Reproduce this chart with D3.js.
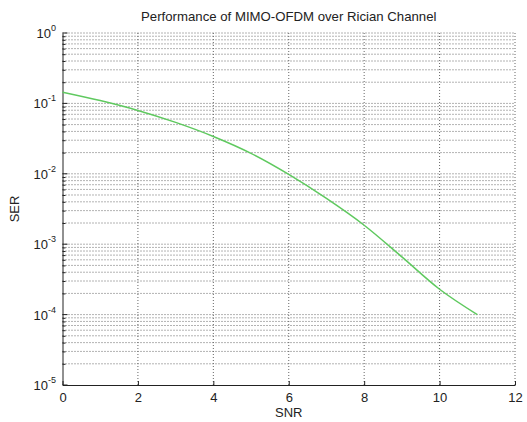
<!DOCTYPE html>
<html><head><meta charset="utf-8">
<script src="https://cdn.jsdelivr.net/npm/d3@7"></script>
<style>body{margin:0;background:#fff}svg{display:block}text{font-family:"Liberation Sans",Arial,sans-serif;fill:#222}</style>
</head><body><svg id="c" width="527" height="422"></svg>
<script>
const snr = [0,1,2,3,4,5,6,7,8,9,10,11];
const ser = [0.1445,0.1096,0.0794,0.0537,0.0339,0.0195,0.0098,0.00447,0.00186,0.00066,0.000229,0.0001];
const xTicks = [0,2,4,6,8,10,12];
const yExps = [0,-1,-2,-3,-4,-5];
const title = "Performance of MIMO-OFDM over Rician Channel";

const svg = d3.select("#c");
const L=62.5, R=515, T=33, B=385;
const x = d3.scaleLinear().domain([0,12]).range([L,R]);
const y = d3.scaleLog().domain([1e-5,1]).range([B,T]);

const minors=[];
for(let e=-5;e<0;e++) for(let m=2;m<=9;m++) minors.push(m*Math.pow(10,e));
const g = svg.append("g");
g.selectAll(".hg").data(minors.concat([1e-4,1e-3,1e-2,1e-1,1])).enter().append("line")
 .attr("x1",L).attr("x2",R).attr("y1",d=>y(d)).attr("y2",d=>y(d))
 .attr("stroke","#666").attr("stroke-width",1).attr("stroke-dasharray","1,2");
g.selectAll(".vg").data(xTicks.slice(1)).enter().append("line")
 .attr("x1",d=>x(d)).attr("x2",d=>x(d)).attr("y1",T).attr("y2",B)
 .attr("stroke","#666").attr("stroke-width",1).attr("stroke-dasharray","1,2");

const xa = svg.append("g").attr("transform",`translate(0,${B})`)
 .call(d3.axisBottom(x).tickValues(xTicks).tickSizeInner(-4).tickSizeOuter(0).tickPadding(8).tickFormat(d3.format("d")));
xa.select(".domain").attr("stroke","#222");
xa.selectAll(".tick line").attr("stroke","#222");
xa.selectAll("text").attr("font-size",13).attr("fill","#333");

const ya = svg.append("g").attr("transform",`translate(${L},0)`)
 .call(d3.axisLeft(y).tickValues(minors).tickSizeInner(-3).tickSizeOuter(0).tickFormat(""));
ya.select(".domain").attr("stroke","#222");
ya.selectAll(".tick line").attr("stroke","#222");
const yl = svg.append("g");
yExps.forEach(e=>{
  const yy=y(Math.pow(10,e));
  yl.append("line").attr("x1",L).attr("x2",L+5).attr("y1",yy).attr("y2",yy).attr("stroke","#222");
  const t=yl.append("text").attr("x",56).attr("y",yy+5).attr("text-anchor","end").attr("font-size",13).attr("fill","#333");
  t.append("tspan").text("10");
  t.append("tspan").attr("dy",-7).attr("font-size",9).text(String(e));
});

svg.append("path").datum(snr.map((s,i)=>[s,ser[i]]))
 .attr("d",d3.line().x(d=>x(d[0])).y(d=>y(d[1])).curve(d3.curveMonotoneX))
 .attr("fill","none").attr("stroke","#5fc95f").attr("stroke-width",1.5);

svg.append("text").attr("x",(L+R)/2).attr("y",21).attr("text-anchor","middle").attr("font-size",13.2).attr("fill","#333").text(title);
svg.append("text").attr("x",(L+R)/2).attr("y",417).attr("text-anchor","middle").attr("font-size",13).attr("fill","#333").text("SNR");
svg.append("text").attr("transform",`translate(19,${(T+B)/2}) rotate(-90)`).attr("text-anchor","middle").attr("font-size",13).attr("fill","#333").text("SER");
</script></body></html>
